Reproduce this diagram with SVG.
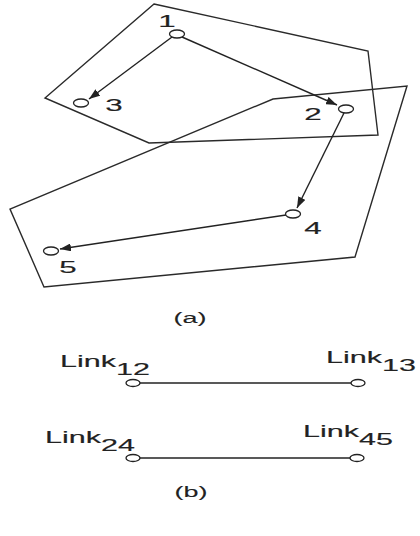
<svg xmlns="http://www.w3.org/2000/svg" width="420" height="536" viewBox="0 0 420 536">
<style>
.poly{fill:none;stroke:#2a2a2a;stroke-width:1.4;stroke-linejoin:miter}
.node{fill:#fff;stroke:#222;stroke-width:1.3}
.edge{stroke:#222;stroke-width:1.4;fill:none}
.lbl{font-family:"Liberation Sans",Arial,sans-serif;font-size:16.5px;fill:#222;stroke:#222;stroke-width:0.15}
.cap{font-family:"Liberation Sans",Arial,sans-serif;font-size:15px;fill:#222;stroke:#222;stroke-width:0.1}
</style>
<defs>
<marker id="ah" viewBox="0 0 11 8" refX="11" refY="4" markerWidth="11" markerHeight="8" markerUnits="userSpaceOnUse" orient="auto">
<path d="M0,0 L11,4 L0,8 Z" fill="#222"/>
</marker>
</defs>
<g id="regions">
<polygon class="poly" points="154,4 368,51 378,135 149,143 45,98"/>
<polygon class="poly" points="273,99 407,86 355,257 44,287 10,209"/>
</g>
<g id="connectors">
<line class="edge" x1="172" y1="37" x2="89" y2="99" marker-end="url(#ah)"/>
<line class="edge" x1="182" y1="37" x2="337" y2="105" marker-end="url(#ah)"/>
<line class="edge" x1="344" y1="113" x2="297" y2="208" marker-end="url(#ah)"/>
<line class="edge" x1="286" y1="215" x2="60" y2="249" marker-end="url(#ah)"/>
<line class="edge" x1="133" y1="383" x2="358" y2="383"/>
<line class="edge" x1="133" y1="458" x2="357" y2="458"/>
</g>
<g id="node1">
<ellipse class="node" cx="177" cy="34" rx="7.5" ry="4"/>
<text class="lbl" text-anchor="middle" transform="translate(167,27) scale(1.9,1)">1</text>
</g>
<g id="node2">
<ellipse class="node" cx="346" cy="109" rx="7.5" ry="4"/>
<text class="lbl" text-anchor="middle" transform="translate(313,120) scale(1.9,1)">2</text>
</g>
<g id="node3">
<ellipse class="node" cx="81" cy="103" rx="7.5" ry="4"/>
<text class="lbl" text-anchor="middle" transform="translate(114,111) scale(1.9,1)">3</text>
</g>
<g id="node4">
<ellipse class="node" cx="293" cy="214" rx="7.5" ry="4"/>
<text class="lbl" text-anchor="middle" transform="translate(313,234) scale(1.9,1)">4</text>
</g>
<g id="node5">
<ellipse class="node" cx="51" cy="251" rx="7.5" ry="4"/>
<text class="lbl" text-anchor="middle" transform="translate(68,273) scale(1.9,1)">5</text>
</g>
<text class="cap" text-anchor="middle" transform="translate(190,323) scale(1.8,1)">(a)</text>
<g id="link12">
<ellipse class="node" cx="133" cy="383" rx="7" ry="3.5"/>
<text class="lbl" transform="translate(60,367) scale(1.85,1)">Link<tspan dy="8">12</tspan></text>
</g>
<g id="link13">
<ellipse class="node" cx="358" cy="383" rx="7" ry="3.5"/>
<text class="lbl" transform="translate(326,363) scale(1.85,1)">Link<tspan dy="8">13</tspan></text>
</g>
<g id="link24">
<ellipse class="node" cx="133" cy="458" rx="7" ry="3.5"/>
<text class="lbl" transform="translate(45,443) scale(1.85,1)">Link<tspan dy="8">24</tspan></text>
</g>
<g id="link45">
<ellipse class="node" cx="357" cy="458" rx="7" ry="3.5"/>
<text class="lbl" transform="translate(303,437) scale(1.85,1)">Link<tspan dy="8">45</tspan></text>
</g>
<text class="cap" text-anchor="middle" transform="translate(191,497) scale(1.8,1)">(b)</text>
</svg>
